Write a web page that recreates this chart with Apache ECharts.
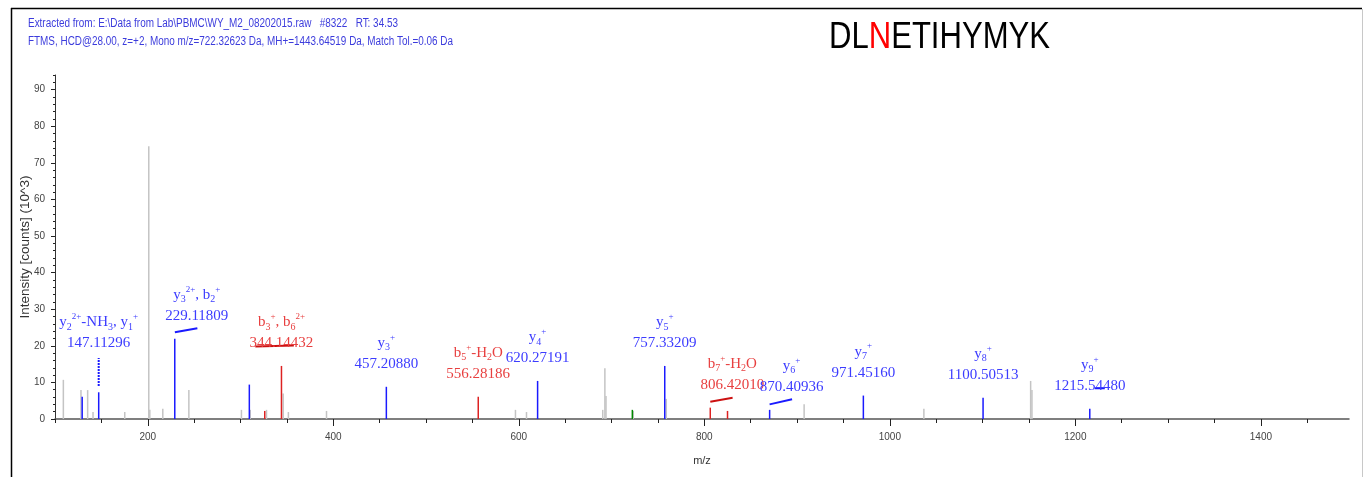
<!DOCTYPE html>
<html><head><meta charset="utf-8">
<script src="https://cdn.jsdelivr.net/npm/echarts@6/dist/echarts.min.js"></script>
<style>html,body{margin:0;padding:0;background:#fff}#c{width:1368px;height:477px}</style>
</head><body><div id="c"></div>
<script>
// ---------- texts ----------
const headerLines = [
  "Extracted from: E:\\Data from Lab\\PBMC\\WY_M2_08202015.raw   #8322   RT: 34.53",
  "FTMS, HCD@28.00, z=+2, Mono m/z=722.32623 Da, MH+=1443.64519 Da, Match Tol.=0.06 Da"
];
const seqBefore = "DL", seqSite = "N", seqAfter = "ETIHYMYK";
const xName = "m/z";
const yName = "Intensity [counts] (10^3)";
const xTickLabels = [200, 400, 600, 800, 1000, 1200, 1400];
const yTickLabels = [0, 10, 20, 30, 40, 50, 60, 70, 80, 90];

// ---------- labelled (matched) fragment ions ----------
const ionMz   = [147.11296, 229.11809, 344.14432, 457.20880, 556.28186, 620.27191, 757.33209, 806.42010, 870.40936, 971.45160, 1100.50513, 1215.54480];
const ionInt  = [7.3, 21.9, 14.5, 8.8, 6.1, 10.4, 14.5, 3.1, 2.5, 6.4, 5.8, 2.8];
const ionType = ["y", "y", "b", "y", "b", "y", "y", "b", "y", "y", "y", "y"];
const ionName = [
  "{n|y}{sb|2}{sp|2+}{n|-NH}{sb|3}{n|, y}{sb|1}{sp|+}",
  "{n|y}{sb|3}{sp|2+}{n|, b}{sb|2}{sp|+}",
  "{n|b}{sb|3}{sp|+}{n|, b}{sb|6}{sp|2+}",
  "{n|y}{sb|3}{sp|+}",
  "{n|b}{sb|5}{sp|+}{n|-H}{sb|2}{n|O}",
  "{n|y}{sb|4}{sp|+}",
  "{n|y}{sb|5}{sp|+}",
  "{n|b}{sb|7}{sp|+}{n|-H}{sb|2}{n|O}",
  "{n|y}{sb|6}{sp|+}",
  "{n|y}{sb|7}{sp|+}",
  "{n|y}{sb|8}{sp|+}",
  "{n|y}{sb|9}{sp|+}"
];

// ---------- unlabelled peaks ----------
const grayMz  = [109.0, 128.0, 135.2, 141.0, 175.2, 201.1, 202.2, 216.2, 244.3, 301.0, 310.5, 328.0, 346.0, 351.6, 392.7, 596.4, 608.3, 690.5, 692.8, 694.0, 723.4, 759.0, 907.6, 1036.7, 1151.8, 1153.2];
const grayInt = [10.7, 7.9, 7.9, 1.9, 1.9, 74.5, 2.5, 2.8, 7.9, 2.5, 2.5, 2.5, 7.0, 1.9, 2.2, 2.5, 1.9, 2.5, 13.9, 6.3, 2.2, 5.5, 4.0, 2.8, 10.4, 7.9];
const blueMz  = [129.3, 309.5];
const blueInt = [6.1, 9.4];
const redMz   = [326.1, 825.0];
const redInt  = [2.2, 2.2];
const greenMz = [722.4];
const greenInt= [2.5];

// ---------- annotation leader lines (data units: mz1, int1, mz2, int2) ----------
const blueLeaders = [[229.2, 23.7, 253.5, 24.8], [870.4, 4.0, 894.6, 5.4], [1220.8, 8.4, 1231.7, 8.4]];
const redLeaders  = [[806.4, 4.7, 830.5, 5.8], [316.0, 19.8, 357.5, 20.1]];
const dashLeaders = [[147.11, 9.0, 147.11, 16.7]];

// ---------- styling ----------
const BLUE = "#1a1aff", RED = "#dd2222", GRAY = "#c4c4c4", GREEN = "#008800";
const BLUE_TXT = "#3c3cff", RED_TXT = "#e84040";
const LABEL_LIFT = 23, LABEL_GAP = 21;
const labelAdjust = { 0: {lift: 49}, 1: {dx: 22}, 7: {dx: 22}, 8: {dx: 22} };
const XMIN = 100, XMAX = 1495, YMAX = 94;

function fitScale(text, font, target) {
  const ctx = document.createElement('canvas').getContext('2d');
  ctx.font = font;
  return target / ctx.measureText(text).width;
}

function stick(name, mz, ints, color, width) {
  return {
    type: 'custom', name, silent: true, clip: true,
    data: mz.map((m, i) => [m, ints[i]]),
    encode: {x: 0, y: 1},
    renderItem: (p, api) => {
      const a = api.coord([api.value(0), 0]);
      const b = api.coord([api.value(0), api.value(1)]);
      return {type: 'line', shape: {x1: a[0], y1: a[1], x2: b[0], y2: b[1]},
              style: {stroke: color, lineWidth: width}};
    }
  };
}
function leaders(list, color, width, dash) {
  return {
    type: 'custom', silent: true, clip: false,
    data: list,
    encode: {x: [0, 2], y: [1, 3]},
    renderItem: (p, api) => {
      const a = api.coord([api.value(0), api.value(1)]);
      const b = api.coord([api.value(2), api.value(3)]);
      return {type: 'line', shape: {x1: a[0], y1: a[1], x2: b[0], y2: b[1]},
              style: {stroke: color, lineWidth: width, lineDash: dash || null}};
    }
  };
}

const richStyle = {
  n:  {fontSize: 15, fontFamily: 'Liberation Serif', lineHeight: 20},
  sb: {fontSize: 10, fontFamily: 'Liberation Serif', lineHeight: 10, verticalAlign: 'bottom'},
  sp: {fontSize: 9,  fontFamily: 'Liberation Serif', lineHeight: 10, verticalAlign: 'top'}
};

const blueIdx = ionType.map((t, i) => t === 'y' ? i : -1).filter(i => i >= 0);
const redIdx  = ionType.map((t, i) => t === 'b' ? i : -1).filter(i => i >= 0);

const labelSeries = {
  type: 'custom', silent: true, clip: false,
  data: ionMz.map((m, i) => [m, ionInt[i], i]),
  encode: {x: 0, y: 1},
  renderItem: (p, api) => {
    const i = api.value(2);
    const c = api.coord([api.value(0), api.value(1)]);
    const adj = labelAdjust[i] || {};
    const x = c[0] + (adj.dx || 0);
    const y2 = c[1] - (adj.lift || LABEL_LIFT);
    const col = ionType[i] === 'y' ? BLUE_TXT : RED_TXT;
    return {type: 'group', children: [
      {type: 'text', x: x, y: y2 - LABEL_GAP,
       style: {text: ionName[i], rich: richStyle, fill: col, align: 'center', verticalAlign: 'middle',
               fontFamily: 'Liberation Serif', fontSize: 15}},
      {type: 'text', x: x, y: y2,
       style: {text: ionMz[i].toFixed(5), fill: col, align: 'center', verticalAlign: 'middle',
               fontFamily: 'Liberation Serif', fontSize: 15}}
    ]};
  }
};

const x50 = []; for (let v = XMIN; v < XMAX; v += 50) x50.push(v);
const y2s = []; for (let v = 0; v <= YMAX; v += 2) y2s.push(v);

const hdrFont = '12px "Liberation Sans"';
const titleFont = '36px "Liberation Sans"';
const titleText = seqBefore + seqSite + seqAfter;

const chart = echarts.init(document.getElementById('c'), null, {renderer: 'canvas'});
chart.setOption({
  animation: false,
  backgroundColor: '#ffffff',
  grid: {left: 55, right: 19, top: 75, bottom: 58, containLabel: false},
  xAxis: [
    {type: 'value', min: XMIN, max: XMAX, position: 'bottom',
     name: xName, nameLocation: 'middle', nameGap: 36, nameMoveOverlap: false,
     nameTextStyle: {fontFamily: 'Liberation Sans', fontSize: 11, color: '#333'},
     axisLine: {show: true, lineStyle: {color: '#555', width: 1.5}},
     axisTick: {show: true, length: 4, customValues: x50, lineStyle: {color: '#222'}},
     axisLabel: {show: true, customValues: xTickLabels, margin: 13, formatter: v => String(v),
                 fontFamily: 'Liberation Sans', fontSize: 10, color: '#444'},
     splitLine: {show: false}},
    {type: 'value', min: XMIN, max: XMAX, position: 'bottom',
     axisLine: {show: false},
     axisTick: {show: true, length: 7, customValues: xTickLabels, lineStyle: {color: '#222'}},
     axisLabel: {show: false}, splitLine: {show: false}}
  ],
  yAxis: [
    {type: 'value', min: 0, max: YMAX, position: 'left',
     name: yName, nameLocation: 'middle', nameGap: 23, nameRotate: 90, nameMoveOverlap: false,
     nameTextStyle: {fontFamily: 'Liberation Sans', fontSize: 13.5, color: '#333'},
     axisLine: {show: true, lineStyle: {color: '#333', width: 1}},
     axisTick: {show: true, length: 4, customValues: yTickLabels, lineStyle: {color: '#222'}},
     axisLabel: {show: true, customValues: yTickLabels, margin: 10, formatter: v => String(v),
                 fontFamily: 'Liberation Sans', fontSize: 10, color: '#444'},
     splitLine: {show: false}},
    {type: 'value', min: 0, max: YMAX, position: 'left',
     axisLine: {show: false},
     axisTick: {show: true, length: 2, customValues: y2s, lineStyle: {color: '#222'}},
     axisLabel: {show: false}, splitLine: {show: false}}
  ],
  graphic: [
    {type: 'line', shape: {x1: 11, y1: 8.5, x2: 1362, y2: 8.5}, style: {stroke: '#000', lineWidth: 1.5}, silent: true},
    {type: 'line', shape: {x1: 11.5, y1: 8, x2: 11.5, y2: 477}, style: {stroke: '#000', lineWidth: 1.5}, silent: true},
    {type: 'line', shape: {x1: 1362.5, y1: 9, x2: 1362.5, y2: 477}, style: {stroke: '#c8c8c8', lineWidth: 1}, silent: true},
    {type: 'text', x: 28, y: 23.5, scaleX: fitScale(headerLines[0], hdrFont, 370),
     style: {text: headerLines[0], fill: '#3c3cdc', font: hdrFont, verticalAlign: 'middle'}, silent: true},
    {type: 'text', x: 28, y: 41.5, scaleX: fitScale(headerLines[1], hdrFont, 425),
     style: {text: headerLines[1], fill: '#3c3cdc', font: hdrFont, verticalAlign: 'middle'}, silent: true},
    {type: 'text', x: 829, y: 38, scaleX: fitScale(titleText, titleFont, 221),
     style: {text: '{k|' + seqBefore + '}{r|' + seqSite + '}{k|' + seqAfter + '}',
             rich: {k: {fill: '#000', fontSize: 36, fontFamily: 'Liberation Sans'},
                    r: {fill: '#ff0000', fontSize: 36, fontFamily: 'Liberation Sans'}},
             fontSize: 36, fontFamily: 'Liberation Sans', verticalAlign: 'middle'}, silent: true}
  ],
  series: [
    stick('unmatched', grayMz, grayInt, GRAY, 1.5),
    stick('green', greenMz, greenInt, GREEN, 1.5),
    stick('b-ions', redMz.concat(redIdx.map(i => ionMz[i])), redInt.concat(redIdx.map(i => ionInt[i])), RED, 1.5),
    stick('y-ions', blueMz.concat(blueIdx.map(i => ionMz[i])), blueInt.concat(blueIdx.map(i => ionInt[i])), BLUE, 1.5),
    leaders(blueLeaders, BLUE, 2),
    leaders(redLeaders, '#cc1111', 2),
    leaders(dashLeaders, BLUE, 2, [2, 1]),
    labelSeries
  ]
});
</script></body></html>
